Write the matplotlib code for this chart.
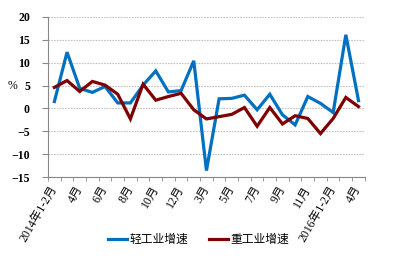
import numpy as np
import matplotlib
matplotlib.use("Agg")
import matplotlib.pyplot as plt
from matplotlib.ticker import FixedLocator

# months: 2014 1-2 .. 12, 2015 1-2 .. 12, 2016 1-2 .. 4
months = ["2014年1-2月", "3月", "4月", "5月", "6月", "7月", "8月", "9月", "10月", "11月", "12月",
          "2015年1-2月", "3月", "4月", "5月", "6月", "7月", "8月", "9月", "10月", "11月", "12月",
          "2016年1-2月", "3月", "4月"]
light = [1.5, 12.3, 4.4, 3.5, 4.8, 1.2, 1.2, 5.1, 8.2, 3.6, 3.9, 10.4,
         -13.6, 2.1, 2.2, 2.9, -0.3, 3.1, -1.4, -3.6, 2.6, 1.1, -0.9, 16.1, 1.7]
heavy = [4.6, 6.1, 3.7, 5.9, 5.1, 3.1, -2.3, 5.3, 1.8, 2.6, 3.3, -0.3,
         -2.3, -1.8, -1.3, 0.2, -3.9, 0.2, -3.4, -1.6, -2.2, -5.5, -2.2, 2.4, 0.4]
series_names = ["轻工业增速", "重工业增速"]

plt.rcParams['font.family'] = ['Liberation Serif', 'Noto Sans CJK SC']

fig = plt.figure(figsize=(3.97, 2.65), dpi=100, facecolor='white')
ax = fig.add_axes([0.121, 0.332, 0.798, 0.604])

x = np.arange(len(months))
ax.plot(x, light, color='#0070C0', lw=2.3, label=series_names[0], solid_joinstyle='miter')
ax.plot(x, heavy, color='#7F0000', lw=2.3, label=series_names[1], solid_joinstyle='miter')

ax.set_ylim(-15, 20)
ax.set_yticks(np.arange(-15, 21, 5))
ax.set_xlim(-0.5, len(months) - 0.5)
ax.yaxis.grid(True, color='#c4c4c4', lw=0.8, ls=(0, (1.5, 1)))
ax.set_axisbelow(True)

for s in ['top', 'right']:
    ax.spines[s].set_visible(False)
for s in ['left', 'bottom']:
    ax.spines[s].set_color('#888888')

ax.tick_params(axis='y', length=4, color='#888888', labelsize=8.5, pad=9)
ax.set_xticks(x[::2])
ax.set_xticklabels(months[::2], rotation=60, ha='right', rotation_mode='anchor',
                   fontsize=8.5, va='center')
ax.tick_params(axis='x', which='major', length=0, pad=7)
ax.xaxis.set_minor_locator(FixedLocator(np.arange(-0.5, len(months), 1)))
ax.tick_params(axis='x', which='minor', length=3, color='#888888')
for t in ax.get_yticklabels():
    t.set_fontweight('bold')

ax.text(-0.113, 5, "%", transform=ax.get_yaxis_transform(), fontsize=8.5,
        ha='center', va='center')

fig.legend(loc='center', bbox_to_anchor=(0.5, 0.095), ncol=2, frameon=False,
           fontsize=8.5, handlelength=1.6, columnspacing=1.8, handletextpad=0.2)

fig.savefig("out.png", dpi=100)
